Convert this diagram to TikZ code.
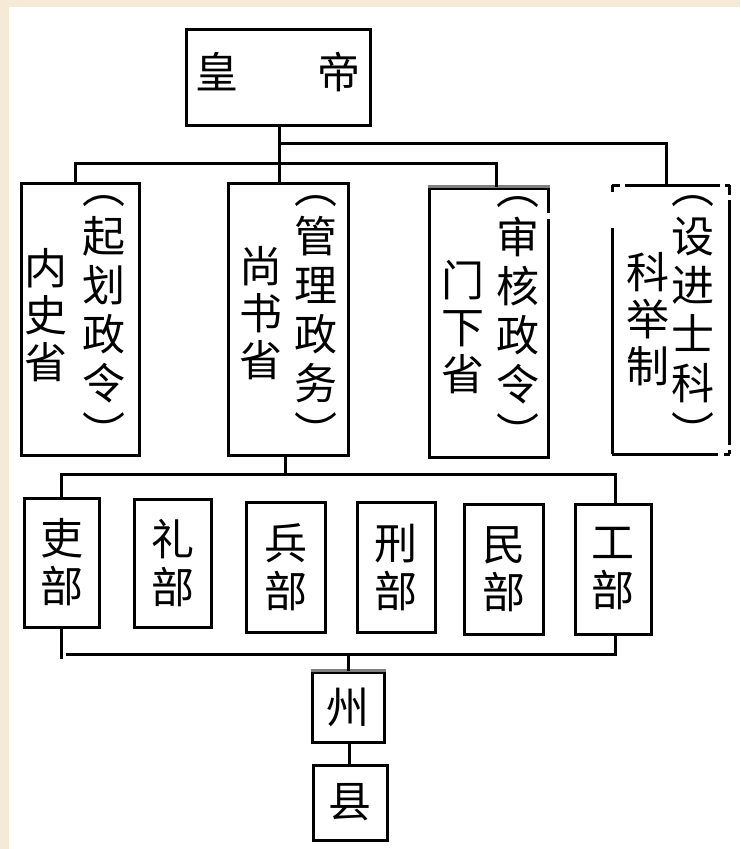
\documentclass[tikz,border=0pt]{standalone}
\usepackage{fontspec}
\newfontfamily\cjk{Noto Sans CJK SC}
\definecolor{bg}{RGB}{244,234,215}
\definecolor{edgegray}{RGB}{128,128,128}
\begin{document}
\begin{tikzpicture}[x=1pt,y=-1pt,line width=3pt,
  box/.style={draw=black,line width=3pt,inner sep=0pt,fill=white},
  col/.style={font=\cjk\fontsize{43}{49}\selectfont,align=center,inner sep=0pt},
  colb/.style={font=\cjk\fontsize{43}{47}\selectfont,align=center,inner sep=0pt},
  dept/.style={box,font=\cjk\fontsize{43}{48}\selectfont,align=center}]
\useasboundingbox (0,0) rectangle (740,849);
\fill[bg] (0,0) rectangle (740,849);
\fill[white] (9,7) rectangle (740,849);

% emperor
\node[box,minimum width=184pt,minimum height=96pt] (emp) at (278,77) {};
\node[inner sep=0pt,font=\cjk\fontsize{43}{48}\selectfont] (empt) at (278,72) {皇\hspace{80pt}帝};

% four offices
\node[box,minimum width=118pt,minimum height=272pt] (neishi) at (80,319) {};
\node[col] (neishiA) at (104,322) {︵\\起\\划\\政\\令\\︶};
\node[colb] (neishiB) at (46,315) {内\\史\\省};

\node[box,minimum width=120pt,minimum height=272pt] (shang) at (288,319) {};
\node[col] (shangA) at (316,322) {︵\\管\\理\\政\\务\\︶};
\node[colb] (shangB) at (261,313) {尚\\书\\省};

\node[box,minimum width=119pt,minimum height=269pt] (menxia) at (488.5,322.5) {};
\draw[edgegray,line width=3pt] (menxia.north west) -- (menxia.north east);
\draw[white,line width=4pt] (548,213) -- (548,219);
\node[col] (menxiaA) at (518,323) {︵\\审\\核\\政\\令\\︶};
\node[colb] (menxiaB) at (463,327) {门\\下\\省};

\node[inner sep=0pt,minimum width=118pt,minimum height=269pt,fill=white] (keju) at (671,319.5) {};
\draw[line width=3pt] (612,185) -- (620,185) (625,185) -- (720,185) (725,185) -- (730,185)
  (612,185) -- (612,192) (612,228) -- (612,454)
  (729,185) -- (729,195) (729,200) -- (729,445) (729,450) -- (729,454)
  (612,454) -- (718,454) (724,454) -- (730,454);
\node[col] (kejuA) at (693,322) {︵\\设\\进\\士\\科\\︶};
\node[colb] (kejuB) at (648,319) {科\\举\\制};

% six ministries
\node[dept,minimum width=75pt,minimum height=129pt] (li) at (61.5,562.5) {吏\\部};
\node[dept,minimum width=77pt,minimum height=128pt] (lib) at (172.5,563) {礼\\部};
\node[dept,minimum width=79pt,minimum height=130pt] (bing) at (285.5,567) {兵\\部};
\node[dept,minimum width=78pt,minimum height=130pt] (xing) at (396,567) {刑\\部};
\node[dept,minimum width=79pt,minimum height=130pt] (min) at (503.5,569) {民\\部};
\node[dept,minimum width=76pt,minimum height=130pt] (gong) at (613,569) {工\\部};

% prefecture and county
\node[dept,minimum width=72pt,minimum height=70pt] (zhou) at (348,707) {州};
\draw[edgegray,line width=3pt] (zhou.north west) -- (zhou.north east);
\node[dept,minimum width=74pt,minimum height=75pt] (xian) at (350,802.5) {县};

% connectors
\draw ([xshift=1pt]emp.south) -- ([xshift=-9pt]shang.north);
\draw (279,143) -| ([xshift=-5pt]keju.north);
\draw ([xshift=-5pt]neishi.north) |- (279,163) -| ([xshift=7.5pt]menxia.north);
\draw ([xshift=-3pt]shang.south) -- (285,476);
\draw (li.north) -- ++(0,-22) -| ([xshift=2pt]gong.north);
\draw (li.south) -- ++(0,30);
\draw (li.south) ++(4,26) -| ([xshift=2pt]gong.south);
\draw (zhou.north) -- (zhou.north |- 0,653);
\draw ([xshift=1pt]zhou.south) -- ([xshift=-1pt]xian.north);
\end{tikzpicture}
\end{document}
